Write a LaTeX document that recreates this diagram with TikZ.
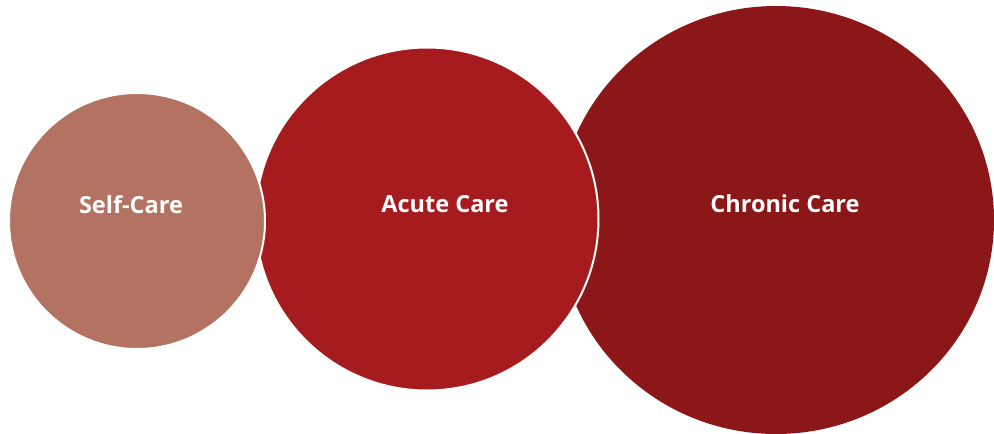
\documentclass[tikz,border=0pt]{standalone}
\usepackage{fontspec}
\setmainfont{Open Sans}
\usetikzlibrary{positioning,shapes.geometric}
\definecolor{selfc}{HTML}{B37262}
\definecolor{acutec}{HTML}{A61B1E}
\definecolor{chronc}{HTML}{8B1718}

\begin{document}
\begin{tikzpicture}[x=1pt,y=-1pt]
    \tikzstyle{cnode} = [circle, draw=white, line width=2pt, inner sep=0pt]
    \tikzstyle{lnode} = [text=white, font=\fontsize{23.5}{28}\selectfont\bfseries, inner sep=0pt]
    \useasboundingbox (0,0) rectangle (994,434);

    % circles, back to front
    \node[ellipse, fill=chronc, inner sep=0pt, minimum width=436pt, minimum height=428pt] (chron) at (776,220) {};
    \node[cnode, fill=acutec, minimum size=343pt] (acute) at (427,219) {};
    \node[cnode, fill=selfc, minimum size=256pt] (self) at (137,221) {};

    % labels
    \node[lnode] (selflbl) at ([xshift=-6pt,yshift=16pt]self.center) {Self-Care};
    \node[lnode] (acutelbl) at ([xshift=18pt,yshift=15pt]acute.center) {Acute Care};
    \node[lnode] (chronlbl) at ([xshift=9pt,yshift=16pt]chron.center) {Chronic Care};
\end{tikzpicture}
\end{document}
